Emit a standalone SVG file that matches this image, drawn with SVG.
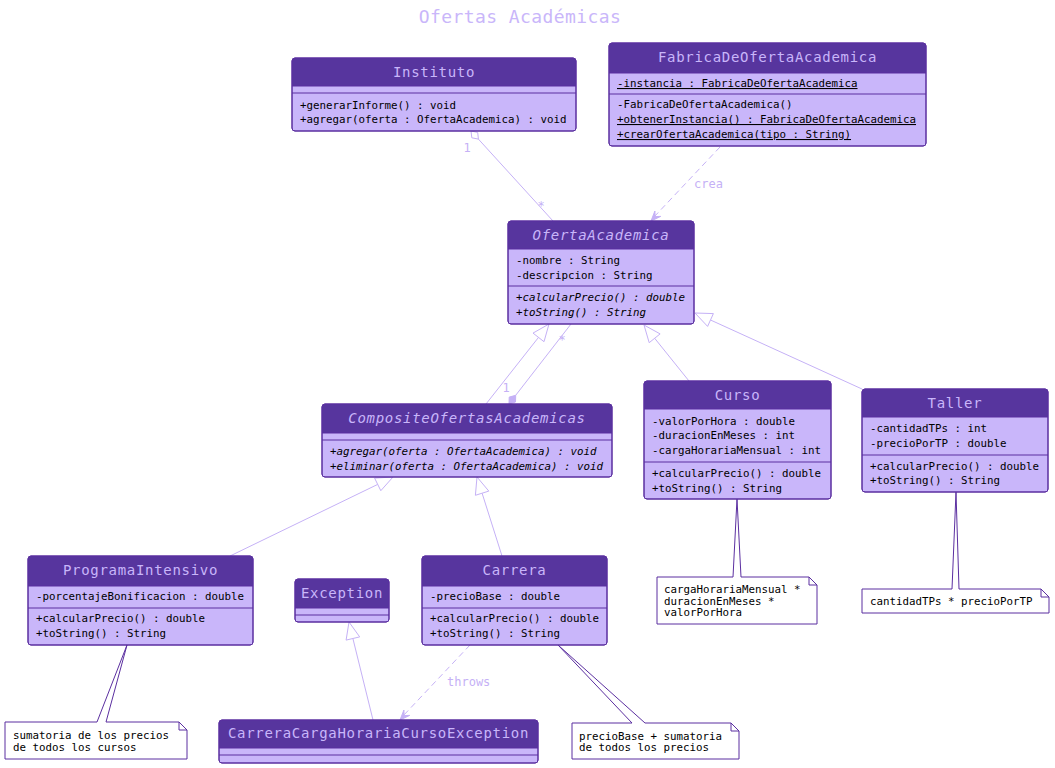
<svg xmlns="http://www.w3.org/2000/svg" width="1055" height="768" viewBox="0 0 1055 768">
<style>
.body{fill:#C9B6FA;stroke:#5B2FA0;stroke-width:1}
.hdr{fill:#57359E}
.frame{fill:none;stroke:#5B2FA0;stroke-width:1}
.sep{stroke:#5B2FA0;stroke-width:1}
.ht{font-family:"DejaVu Sans Mono","Liberation Mono",monospace;font-size:14px;fill:#C9B6FA;text-anchor:middle;letter-spacing:0.7px}
.mt{font-family:"DejaVu Sans Mono","Liberation Mono",monospace;font-size:10.8px;fill:#000}
.it{font-style:italic}
.ul{text-decoration:underline}
.ln{stroke:#C5B1F6;stroke-width:1;fill:none}
.dash{stroke-dasharray:6,4}
.tri{fill:#fff;stroke:#C5B1F6;stroke-width:1}
.ah{fill:#C5B1F6;stroke:#C5B1F6;stroke-width:1}
.lbl{font-family:"DejaVu Sans Mono","Liberation Mono",monospace;font-size:12px;fill:#C5B1F6}
.note{fill:#fff;stroke:#5B2FA0;stroke-width:1}
.title{font-family:"DejaVu Sans Mono","Liberation Mono",monospace;font-size:18px;fill:#C9B6FA;text-anchor:middle;letter-spacing:0.4px}
</style>
<text class="title" x="520" y="23">Ofertas Académicas</text>

<g id="connectors">
  <polygon class="tri" points="471,131 471.8,137.8 478.4,139.1 477.7,132.4"/>
  <line class="ln" x1="478.4" y1="139.1" x2="553" y2="221"/>
  <text class="lbl" x="467" y="152" text-anchor="middle">1</text>
  <text class="lbl" x="541" y="210" text-anchor="middle">*</text>
  <line class="ln dash" x1="720" y1="147" x2="654" y2="217"/>
  <polygon class="ah" points="651,221 660.7,216.4 655.1,216.6 654.9,211"/>
  <text class="lbl" x="694" y="188">crea</text>
  <line class="ln" x1="486" y1="404" x2="538.5" y2="337.4"/>
  <polygon class="tri" points="549,324 544,341.7 533,333.1"/>
  <polygon class="ah" points="509,404 515.5,402 515.7,395.3 509.2,397.1"/>
  <line class="ln" x1="515.7" y1="395.3" x2="571" y2="324"/>
  <text class="lbl" x="506" y="392" text-anchor="middle">1</text>
  <text class="lbl" x="562" y="344" text-anchor="middle">*</text>
  <line class="ln" x1="689" y1="381" x2="654.7" y2="338.3"/>
  <polygon class="tri" points="644,325 660.1,333.9 649.2,342.7"/>
  <line class="ln" x1="862" y1="389" x2="710.5" y2="320"/>
  <polygon class="tri" points="695,313 713.4,313.6 707.6,326.4"/>
  <line class="ln" x1="230" y1="556" x2="377.7" y2="484.4"/>
  <polygon class="tri" points="393,477 380.8,490.7 374.6,478.1"/>
  <line class="ln" x1="502" y1="556" x2="482.1" y2="493.2"/>
  <polygon class="tri" points="477,477 488.8,491.1 475.4,495.3"/>
  <line class="ln" x1="373" y1="720" x2="352.9" y2="638.5"/>
  <polygon class="tri" points="349,622 359.7,636.9 346.1,640.1"/>
  <line class="ln dash" x1="470" y1="645" x2="403" y2="716"/>
  <polygon class="ah" points="400,720 409.7,715.4 404.1,715.6 403.9,710"/>
  <text class="lbl" x="447" y="686">throws</text>
</g>

<g id="note-curso">
  <path class="note" d="M657,577 L733,577 L737,499 L741,577 L809,577 L817,585 L817,624 L657,624 Z M809,577 L809,585 L817,585"/>
  <text class="mt" x="664" y="593">cargaHorariaMensual *</text>
  <text class="mt" x="664" y="605">duracionEnMeses *</text>
  <text class="mt" x="664" y="616">valorPorHora</text>
</g>
<g id="note-taller">
  <path class="note" d="M862,589 L952,589 L956,492 L959,589 L1041,589 L1049,597 L1049,613 L862,613 Z M1041,589 L1041,597 L1049,597"/>
  <text class="mt" x="870" y="605">cantidadTPs * precioPorTP</text>
</g>
<g id="note-programa">
  <path class="note" d="M5,722 L97,722 L127,645 L106,722 L179,722 L187,730 L187,759 L5,759 Z M179,722 L179,730 L187,730"/>
  <text class="mt" x="13" y="739">sumatoria de los precios</text>
  <text class="mt" x="13" y="751">de todos los cursos</text>
</g>
<g id="note-carrera">
  <path class="note" d="M572,723 L632,723 L558,645 L645,723 L731,723 L739,731 L739,759 L572,759 Z M731,723 L731,731 L739,731"/>
  <text class="mt" x="579" y="740">precioBase + sumatoria</text>
  <text class="mt" x="579" y="751">de todos los precios</text>
</g>

<g id="Instituto">
  <rect class="body" x="292" y="58" width="284" height="73" rx="3"/>
  <path class="hdr" d="M292,86 L292,61 Q292,58 295,58 L573,58 Q576,58 576,61 L576,86 Z"/>
  <rect class="frame" x="292" y="58" width="284" height="73" rx="3"/>
  <line class="sep" x1="292" y1="86" x2="576" y2="86"/>
  <line class="sep" x1="292" y1="93" x2="576" y2="93"/>
  <text class="ht" x="434" y="77">Instituto</text>
  <text class="mt" x="300" y="109">+generarInforme() : void</text>
  <text class="mt" x="300" y="123">+agregar(oferta : OfertaAcademica) : void</text>
</g>

<g id="FabricaDeOfertaAcademica">
  <rect class="body" x="609" y="43" width="317" height="103" rx="3"/>
  <path class="hdr" d="M609,73 L609,46 Q609,43 612,43 L923,43 Q926,43 926,46 L926,73 Z"/>
  <rect class="frame" x="609" y="43" width="317" height="103" rx="3"/>
  <line class="sep" x1="609" y1="73" x2="926" y2="73"/>
  <line class="sep" x1="609" y1="94" x2="926" y2="94"/>
  <text class="ht" x="767.5" y="62">FabricaDeOfertaAcademica</text>
  <text class="mt ul" x="617" y="87">-instancia : FabricaDeOfertaAcademica</text>
  <text class="mt" x="617" y="108">-FabricaDeOfertaAcademica()</text>
  <text class="mt ul" x="617" y="123">+obtenerInstancia() : FabricaDeOfertaAcademica</text>
  <text class="mt ul" x="617" y="138">+crearOfertaAcademica(tipo : String)</text>
</g>

<g id="OfertaAcademica">
  <rect class="body" x="508" y="221" width="186" height="103" rx="3"/>
  <path class="hdr" d="M508,249 L508,224 Q508,221 511,221 L691,221 Q694,221 694,224 L694,249 Z"/>
  <rect class="frame" x="508" y="221" width="186" height="103" rx="3"/>
  <line class="sep" x1="508" y1="249" x2="694" y2="249"/>
  <line class="sep" x1="508" y1="286" x2="694" y2="286"/>
  <text class="ht it" x="601" y="240">OfertaAcademica</text>
  <text class="mt" x="516" y="264">-nombre : String</text>
  <text class="mt" x="516" y="279">-descripcion : String</text>
  <text class="mt it" x="516" y="301">+calcularPrecio() : double</text>
  <text class="mt it" x="516" y="316">+toString() : String</text>
</g>

<g id="CompositeOfertasAcademicas">
  <rect class="body" x="322" y="404" width="290" height="73" rx="3"/>
  <path class="hdr" d="M322,433 L322,407 Q322,404 325,404 L609,404 Q612,404 612,407 L612,433 Z"/>
  <rect class="frame" x="322" y="404" width="290" height="73" rx="3"/>
  <line class="sep" x1="322" y1="433" x2="612" y2="433"/>
  <line class="sep" x1="322" y1="440" x2="612" y2="440"/>
  <text class="ht it" x="467" y="423">CompositeOfertasAcademicas</text>
  <text class="mt it" x="330" y="455">+agregar(oferta : OfertaAcademica) : void</text>
  <text class="mt it" x="330" y="470">+eliminar(oferta : OfertaAcademica) : void</text>
</g>

<g id="Curso">
  <rect class="body" x="644" y="381" width="187" height="118" rx="3"/>
  <path class="hdr" d="M644,409 L644,384 Q644,381 647,381 L828,381 Q831,381 831,384 L831,409 Z"/>
  <rect class="frame" x="644" y="381" width="187" height="118" rx="3"/>
  <line class="sep" x1="644" y1="409" x2="831" y2="409"/>
  <line class="sep" x1="644" y1="462" x2="831" y2="462"/>
  <text class="ht" x="737.5" y="400">Curso</text>
  <text class="mt" x="652" y="425">-valorPorHora : double</text>
  <text class="mt" x="652" y="439">-duracionEnMeses : int</text>
  <text class="mt" x="652" y="454">-cargaHorariaMensual : int</text>
  <text class="mt" x="652" y="477">+calcularPrecio() : double</text>
  <text class="mt" x="652" y="492">+toString() : String</text>
</g>

<g id="Taller">
  <rect class="body" x="862" y="389" width="186" height="103" rx="3"/>
  <path class="hdr" d="M862,417 L862,392 Q862,389 865,389 L1045,389 Q1048,389 1048,392 L1048,417 Z"/>
  <rect class="frame" x="862" y="389" width="186" height="103" rx="3"/>
  <line class="sep" x1="862" y1="417" x2="1048" y2="417"/>
  <line class="sep" x1="862" y1="455" x2="1048" y2="455"/>
  <text class="ht" x="955" y="408">Taller</text>
  <text class="mt" x="870" y="432">-cantidadTPs : int</text>
  <text class="mt" x="870" y="447">-precioPorTP : double</text>
  <text class="mt" x="870" y="470">+calcularPrecio() : double</text>
  <text class="mt" x="870" y="484">+toString() : String</text>
</g>

<g id="ProgramaIntensivo">
  <rect class="body" x="28" y="556" width="225" height="89" rx="3"/>
  <path class="hdr" d="M28,586 L28,559 Q28,556 31,556 L250,556 Q253,556 253,559 L253,586 Z"/>
  <rect class="frame" x="28" y="556" width="225" height="89" rx="3"/>
  <line class="sep" x1="28" y1="586" x2="253" y2="586"/>
  <line class="sep" x1="28" y1="608" x2="253" y2="608"/>
  <text class="ht" x="140.5" y="575">ProgramaIntensivo</text>
  <text class="mt" x="36" y="600">-porcentajeBonificacion : double</text>
  <text class="mt" x="36" y="622">+calcularPrecio() : double</text>
  <text class="mt" x="36" y="637">+toString() : String</text>
</g>

<g id="Exception">
  <rect class="body" x="295" y="579" width="94" height="43" rx="3"/>
  <path class="hdr" d="M295,608 L295,582 Q295,579 298,579 L386,579 Q389,579 389,582 L389,608 Z"/>
  <rect class="frame" x="295" y="579" width="94" height="43" rx="3"/>
  <line class="sep" x1="295" y1="608" x2="389" y2="608"/>
  <line class="sep" x1="295" y1="615" x2="389" y2="615"/>
  <text class="ht" x="342" y="598">Exception</text>
</g>

<g id="Carrera">
  <rect class="body" x="422" y="556" width="185" height="89" rx="3"/>
  <path class="hdr" d="M422,586 L422,559 Q422,556 425,556 L604,556 Q607,556 607,559 L607,586 Z"/>
  <rect class="frame" x="422" y="556" width="185" height="89" rx="3"/>
  <line class="sep" x1="422" y1="586" x2="607" y2="586"/>
  <line class="sep" x1="422" y1="608" x2="607" y2="608"/>
  <text class="ht" x="514.5" y="575">Carrera</text>
  <text class="mt" x="430" y="600">-precioBase : double</text>
  <text class="mt" x="430" y="622">+calcularPrecio() : double</text>
  <text class="mt" x="430" y="637">+toString() : String</text>
</g>

<g id="CarreraCargaHorariaCursoException">
  <rect class="body" x="219" y="720" width="319" height="43" rx="3"/>
  <path class="hdr" d="M219,748 L219,723 Q219,720 222,720 L535,720 Q538,720 538,723 L538,748 Z"/>
  <rect class="frame" x="219" y="720" width="319" height="43" rx="3"/>
  <line class="sep" x1="219" y1="748" x2="538" y2="748"/>
  <line class="sep" x1="219" y1="755" x2="538" y2="755"/>
  <text class="ht" x="378.5" y="738">CarreraCargaHorariaCursoException</text>
</g>
</svg>
